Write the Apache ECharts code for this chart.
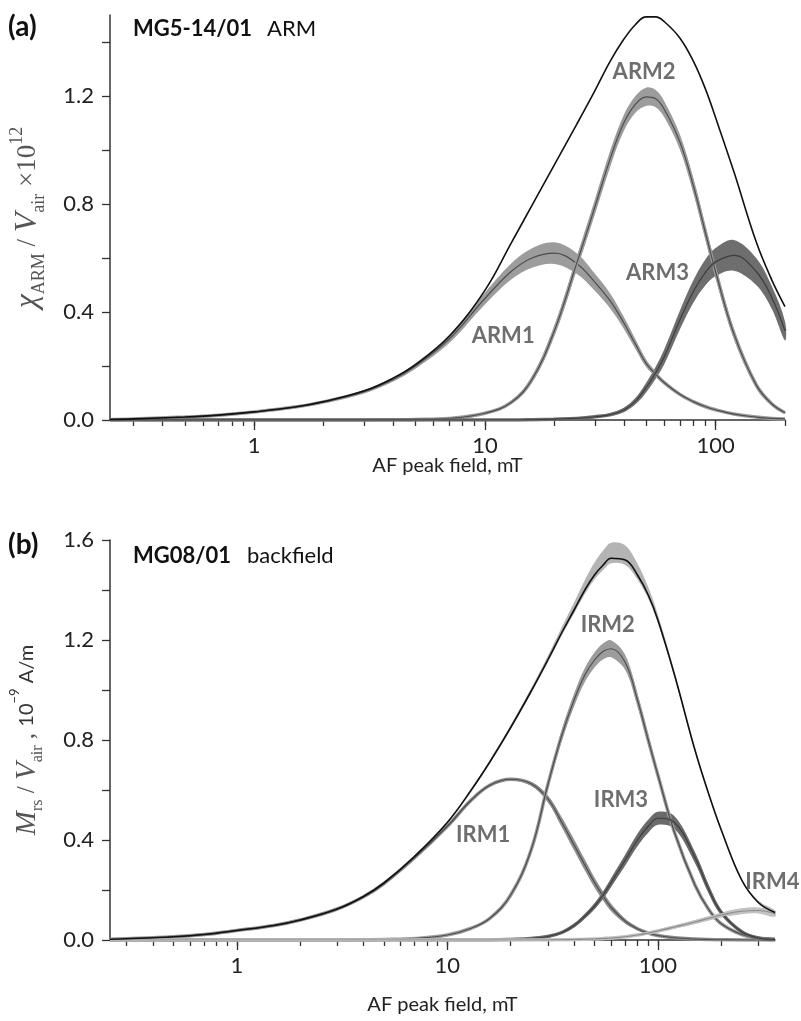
<!DOCTYPE html>
<html>
<head>
<meta charset="utf-8">
<script src="https://cdn.jsdelivr.net/npm/echarts@6/dist/echarts.min.js"></script>
<style>
  html, body { margin: 0; padding: 0; background: #fff; }
  #chart { width: 801px; height: 1021px; }
</style>
</head>
<body>
<div id="chart"></div>
<script>
// ---- panel (a): MG5-14/01 ARM ----
const fieldA = [0.237, 0.3, 0.5, 0.7, 1, 1.5, 2, 3, 4, 5, 7, 10, 13, 16, 20, 25, 30, 35, 40, 45, 50, 55, 60, 70, 80, 90, 100, 120, 150, 175, 200];
const totalA = [0.002, 0.004, 0.011, 0.018, 0.03, 0.048, 0.068, 0.108, 0.155, 0.205, 0.31, 0.48, 0.655, 0.795, 0.945, 1.095, 1.22, 1.33, 1.41, 1.465, 1.493, 1.493, 1.475, 1.415, 1.33, 1.23, 1.12, 0.92, 0.66, 0.52, 0.42];
const arm1 = [0.002, 0.004, 0.011, 0.018, 0.03, 0.048, 0.067, 0.105, 0.15, 0.2, 0.3, 0.45, 0.55, 0.6, 0.618, 0.58, 0.51, 0.44, 0.36, 0.28, 0.21, 0.17, 0.138, 0.095, 0.068, 0.05, 0.038, 0.022, 0.011, 0.006, 0.004];
const arm1Err = [0.001, 0.001, 0.001, 0.001, 0.001, 0.002, 0.003, 0.005, 0.007, 0.01, 0.015, 0.022, 0.03, 0.036, 0.04, 0.038, 0.032, 0.028, 0.022, 0.018, 0.014, 0.01, 0.008, 0.006, 0.004, 0.003, 0.003, 0.002, 0.001, 0.001, 0.001];
const arm2 = [0, 0, 0, 0, 0, 0, 0, 0, 0.001, 0.002, 0.006, 0.025, 0.065, 0.15, 0.33, 0.58, 0.79, 0.97, 1.1, 1.17, 1.197, 1.19, 1.15, 1.03, 0.87, 0.7, 0.55, 0.32, 0.13, 0.06, 0.027];
const arm2Err = [0, 0, 0, 0, 0, 0, 0, 0, 0.0005, 0.001, 0.002, 0.003, 0.006, 0.012, 0.02, 0.025, 0.028, 0.03, 0.03, 0.031, 0.034, 0.032, 0.03, 0.028, 0.028, 0.027, 0.025, 0.02, 0.012, 0.007, 0.004];
const arm3 = [0, 0, 0, 0, 0, 0, 0, 0, 0, 0, 0, 0, 0, 0.001, 0.003, 0.006, 0.012, 0.02, 0.037, 0.07, 0.12, 0.175, 0.235, 0.37, 0.475, 0.545, 0.585, 0.61, 0.55, 0.455, 0.33];
const arm3Err = [0, 0, 0, 0, 0, 0, 0, 0, 0, 0, 0, 0, 0, 0.0005, 0.001, 0.002, 0.003, 0.005, 0.008, 0.012, 0.018, 0.022, 0.028, 0.035, 0.042, 0.048, 0.052, 0.057, 0.05, 0.042, 0.035];
const labelsA = [['ARM1', 12, 0.31], ['ARM2', 49, 1.29], ['ARM3', 56, 0.543]];

// ---- panel (b): MG08/01 backfield ----
const fieldB = [0.25, 0.3, 0.5, 0.7, 1, 1.5, 2, 3, 4, 5, 7, 10, 13, 16, 20, 25, 30, 35, 40, 45, 50, 55, 60, 70, 80, 90, 100, 120, 150, 175, 200, 250, 300, 360];
const totalB = [0.003, 0.005, 0.013, 0.022, 0.038, 0.058, 0.08, 0.124, 0.174, 0.228, 0.335, 0.47, 0.6, 0.715, 0.85, 0.995, 1.12, 1.23, 1.32, 1.4, 1.46, 1.5, 1.527, 1.52, 1.46, 1.38, 1.28, 1.06, 0.76, 0.58, 0.44, 0.24, 0.15, 0.11];
const totalBUp = [0.004, 0.004, 0.004, 0.004, 0.004, 0.004, 0.004, 0.004, 0.004, 0.004, 0.004, 0.005, 0.008, 0.008, 0.01, 0.012, 0.016, 0.022, 0.03, 0.04, 0.05, 0.058, 0.062, 0.058, 0.045, 0.032, 0.022, 0.014, 0.01, 0.008, 0.008, 0.008, 0.008, 0.008];
const totalBDown = [0.003, 0.003, 0.003, 0.003, 0.003, 0.003, 0.003, 0.003, 0.003, 0.003, 0.003, 0.004, 0.004, 0.005, 0.006, 0.008, 0.01, 0.012, 0.014, 0.016, 0.018, 0.02, 0.02, 0.02, 0.018, 0.015, 0.012, 0.01, 0.008, 0.006, 0.006, 0.005, 0.005, 0.005];
const irm1 = [0.003, 0.005, 0.013, 0.022, 0.038, 0.058, 0.08, 0.124, 0.173, 0.226, 0.33, 0.455, 0.56, 0.62, 0.643, 0.625, 0.565, 0.47, 0.38, 0.3, 0.23, 0.175, 0.13, 0.075, 0.045, 0.028, 0.018, 0.009, 0.004, 0.002, 0.001, 0, 0, 0];
const irm1Err = [0.002, 0.002, 0.002, 0.002, 0.002, 0.002, 0.002, 0.002, 0.002, 0.002, 0.002, 0.003, 0.004, 0.005, 0.005, 0.008, 0.014, 0.02, 0.022, 0.022, 0.02, 0.018, 0.015, 0.01, 0.006, 0.004, 0.003, 0.002, 0.001, 0.001, 0.001, 0, 0, 0];
const irm2 = [0, 0, 0, 0, 0, 0, 0, 0, 0.001, 0.002, 0.006, 0.02, 0.047, 0.088, 0.18, 0.36, 0.62, 0.82, 0.96, 1.06, 1.12, 1.155, 1.165, 1.11, 0.96, 0.8, 0.66, 0.43, 0.22, 0.12, 0.065, 0.022, 0.008, 0.003];
const irm2Err = [0, 0, 0, 0, 0, 0, 0, 0, 0.0005, 0.001, 0.001, 0.002, 0.004, 0.006, 0.01, 0.014, 0.018, 0.022, 0.026, 0.028, 0.03, 0.032, 0.034, 0.03, 0.024, 0.02, 0.017, 0.013, 0.01, 0.008, 0.006, 0.003, 0.001, 0.001];
const irm3 = [0, 0, 0, 0, 0, 0, 0, 0, 0, 0, 0, 0, 0, 0, 0.002, 0.006, 0.014, 0.03, 0.058, 0.095, 0.135, 0.18, 0.23, 0.32, 0.4, 0.455, 0.487, 0.47, 0.33, 0.2, 0.11, 0.033, 0.008, 0.002];
const irm3Err = [0, 0, 0, 0, 0, 0, 0, 0, 0, 0, 0, 0, 0, 0, 0.0005, 0.001, 0.002, 0.004, 0.006, 0.009, 0.012, 0.015, 0.018, 0.022, 0.025, 0.026, 0.026, 0.025, 0.022, 0.016, 0.01, 0.004, 0.002, 0.001];
const irm4 = [0, 0, 0, 0, 0, 0, 0, 0, 0, 0, 0, 0, 0, 0, 0, 0, 0, 0.001, 0.002, 0.003, 0.004, 0.006, 0.008, 0.013, 0.02, 0.028, 0.036, 0.052, 0.072, 0.087, 0.1, 0.115, 0.118, 0.105];
const irm4Err = [0, 0, 0, 0, 0, 0, 0, 0, 0, 0, 0, 0, 0, 0, 0, 0, 0, 0.0005, 0.001, 0.001, 0.001, 0.002, 0.002, 0.003, 0.004, 0.005, 0.006, 0.007, 0.008, 0.009, 0.01, 0.012, 0.012, 0.012];
const labelsB = [['IRM1', 14.8, 0.42], ['IRM2', 57.8, 1.26], ['IRM3', 66.8, 0.56], ['IRM4', 350, 0.233]];

// ---- ticks ----
const xMajor = [1, 10, 100];
const xMinorA = [0.3, 0.4, 0.5, 0.6, 0.7, 0.8, 0.9, 1, 2, 3, 4, 5, 6, 7, 8, 9, 10, 20, 30, 40, 50, 60, 70, 80, 90, 100, 200];
const xMinorB = [0.3, 0.4, 0.5, 0.6, 0.7, 0.8, 0.9, 1, 2, 3, 4, 5, 6, 7, 8, 9, 10, 20, 30, 40, 50, 60, 70, 80, 90, 100, 200, 300];
const yLabelsA = [0, 0.4, 0.8, 1.2];
const yTicksA = [0, 0.2, 0.4, 0.6, 0.8, 1.0, 1.2, 1.4];
const yLabelsB = [0, 0.4, 0.8, 1.2, 1.6];
const yTicksB = [0, 0.2, 0.4, 0.6, 0.8, 1.0, 1.2, 1.4, 1.6];

const chart = echarts.init(document.getElementById('chart'));
const SMOOTH = 0.4;

function pairs(xs, ys) {
  return xs.map((x, i) => [x, ys[i]]);
}

// shaded uncertainty band: one closed polygon through the axis scales
function bandPolygon(gi, xs, mid, down, up, color) {
  const lo = xs.map((x, i) => mid[i] - down[i]);
  const hi = xs.map((x, i) => mid[i] + up[i]);
  return {
    type: 'custom', coordinateSystem: 'cartesian2d', xAxisIndex: gi * 2, yAxisIndex: gi,
    silent: true,
    data: xs.map((x, i) => [x, lo[i], hi[i]]),
    encode: { x: 0, y: [1, 2] },
    renderItem: function (params, api) {
      if (params.dataIndex !== 0) return null;
      const top = xs.map((x, i) => api.coord([x, hi[i]]));
      const bottom = xs.map((x, i) => api.coord([x, lo[i]])).reverse();
      return {
        type: 'polygon',
        shape: { points: top.concat(bottom), smooth: 0.35 },
        style: { fill: color, stroke: null }
      };
    }
  };
}

function lineSeries(gi, xs, ys, color, width) {
  return {
    type: 'line', xAxisIndex: gi * 2, yAxisIndex: gi, symbol: 'none', smooth: SMOOTH, silent: true,
    data: pairs(xs, ys), lineStyle: { width: width, color: color }
  };
}

function component(gi, xs, mid, err, bandColor, lineColor) {
  return [
    bandPolygon(gi, xs, mid, err, err, bandColor),
    lineSeries(gi, xs, mid, bandColor, 3.5),
    lineSeries(gi, xs, mid, lineColor, 1.2)
  ];
}

function labelSeries(gi, items) {
  return {
    type: 'scatter', xAxisIndex: gi * 2, yAxisIndex: gi, silent: true,
    symbolSize: 1, itemStyle: { color: 'transparent' },
    data: items.map(d => ({ name: d[0], value: [d[1], d[2]] })),
    label: {
      show: true, position: 'inside', formatter: '{b}',
      fontFamily: 'Lato', fontWeight: 'bold', fontSize: 22, color: '#4a4a4a'
    },
    z: 10
  };
}

const tickFont = { fontFamily: 'Lato', fontSize: 22, color: '#222' };
const axisLine = { show: true, lineStyle: { color: '#333', width: 1.5 } };

function xAxes(gi, min, max, minor, gap) {
  return [
    {
      type: 'log', logBase: 10, gridIndex: gi, min: min, max: max, position: 'bottom',
      axisLine: axisLine,
      axisTick: { show: true, length: 6, customValues: minor, lineStyle: { color: '#333', width: 1.3 } },
      axisLabel: { show: false },
      splitLine: { show: false },
      name: 'AF peak field, mT', nameLocation: 'middle', nameGap: gap,
      nameTextStyle: { fontFamily: 'Lato', fontSize: 20, color: '#222', verticalAlign: 'top' }
    },
    {
      type: 'log', logBase: 10, gridIndex: gi, min: min, max: max, position: 'bottom',
      axisLine: { show: false },
      axisTick: { show: true, length: 10, customValues: xMajor, lineStyle: { color: '#333', width: 1.3 } },
      axisLabel: Object.assign({ customValues: xMajor, margin: 15, formatter: v => String(v) }, tickFont),
      splitLine: { show: false }
    }
  ];
}

function yAxis(gi, max, labels, ticks, name, rich, gap) {
  return {
    type: 'value', gridIndex: gi, min: 0, max: max,
    axisLine: axisLine,
    axisTick: { show: true, length: 8, customValues: ticks, lineStyle: { color: '#333', width: 1.3 } },
    axisLabel: Object.assign({ customValues: labels, margin: 16, formatter: v => v.toFixed(1) }, tickFont),
    splitLine: { show: false },
    name: name, nameLocation: 'middle', nameGap: gap,
    nameTextStyle: { color: '#555', rich: rich }
  };
}

const serif = 'Liberation Serif';
const richA = {
  i: { fontFamily: serif, fontStyle: 'italic', fontSize: 32, color: '#555', lineHeight: 40 },
  r: { fontFamily: serif, fontSize: 27, color: '#555', lineHeight: 40 },
  sb: { fontFamily: serif, fontSize: 18, color: '#555', verticalAlign: 'bottom', lineHeight: 40 },
  sp: { fontFamily: serif, fontSize: 18, color: '#555', verticalAlign: 'top', lineHeight: 40 }
};
const richB = {
  i: { fontFamily: serif, fontStyle: 'italic', fontSize: 29, color: '#555', lineHeight: 38 },
  r: { fontFamily: serif, fontSize: 25, color: '#555', lineHeight: 38 },
  sb: { fontFamily: serif, fontSize: 16, color: '#555', verticalAlign: 'bottom', lineHeight: 38 },
  t: { fontFamily: 'Lato', fontSize: 20, color: '#333', lineHeight: 38 },
  tp: { fontFamily: 'Lato', fontSize: 13, color: '#333', verticalAlign: 'top', lineHeight: 38 }
};

const series = [].concat(
  component(0, fieldA, arm1, arm1Err, '#9c9c9c', '#4d4d4d'),
  component(0, fieldA, arm2, arm2Err, '#9c9c9c', '#4d4d4d'),
  component(0, fieldA, arm3, arm3Err, '#6e6e6e', '#3d3d3d'),
  [lineSeries(0, fieldA, totalA, '#111', 1.6)],
  [labelSeries(0, labelsA)],

  [bandPolygon(1, fieldB, totalB, totalBDown, totalBUp, '#b4b4b4')],
  component(1, fieldB, irm1, irm1Err, '#8e8e8e', '#4d4d4d'),
  component(1, fieldB, irm2, irm2Err, '#9c9c9c', '#4d4d4d'),
  component(1, fieldB, irm3, irm3Err, '#6a6a6a', '#3d3d3d'),
  component(1, fieldB, irm4, irm4Err, '#c2c2c2', '#8a8a8a'),
  [lineSeries(1, fieldB, totalB, '#111', 1.6)],
  [labelSeries(1, labelsB)]
);

chart.setOption({
  animation: false,
  backgroundColor: '#fff',
  grid: [
    { left: 108, top: 15, width: 677, height: 405 },
    { left: 108, top: 540, width: 667, height: 400 }
  ],
  xAxis: [].concat(
    xAxes(0, 0.237, 200, xMinorA, 36),
    xAxes(1, 0.25, 360, xMinorB, 55)
  ),
  yAxis: [
    yAxis(0, 1.5, yLabelsA, yTicksA,
      '{i|χ}{sb|ARM}{r| / }{i|V}{sb|air}{r| ×10}{sp|12}', richA, 62),
    yAxis(1, 1.6, yLabelsB, yTicksB,
      '{i|M}{sb|rs}{r| / }{i|V}{sb|air}{r| , }{t|10}{tp|−9}{t| A/m}', richB, 64)
  ],
  graphic: [
    { type: 'text', x: 8, y: 27, z: 100, style: { text: '(a)', font: 'bold 28px Lato', fill: '#111', verticalAlign: 'middle' } },
    { type: 'text', x: 133, y: 29, z: 100, style: { text: 'MG5-14/01', font: 'bold 22px Lato', fill: '#111', verticalAlign: 'middle' } },
    { type: 'text', x: 267, y: 29, z: 100, style: { text: 'ARM', font: '22px Lato', fill: '#111', verticalAlign: 'middle' } },
    { type: 'text', x: 8, y: 545, z: 100, style: { text: '(b)', font: 'bold 28px Lato', fill: '#111', verticalAlign: 'middle' } },
    { type: 'text', x: 133, y: 556, z: 100, style: { text: 'MG08/01', font: 'bold 22px Lato', fill: '#111', verticalAlign: 'middle' } },
    { type: 'text', x: 247, y: 556, z: 100, style: { text: 'backfield', font: '22px Lato', fill: '#111', verticalAlign: 'middle' } }
  ],
  series: series
});
</script>
</body>
</html>
